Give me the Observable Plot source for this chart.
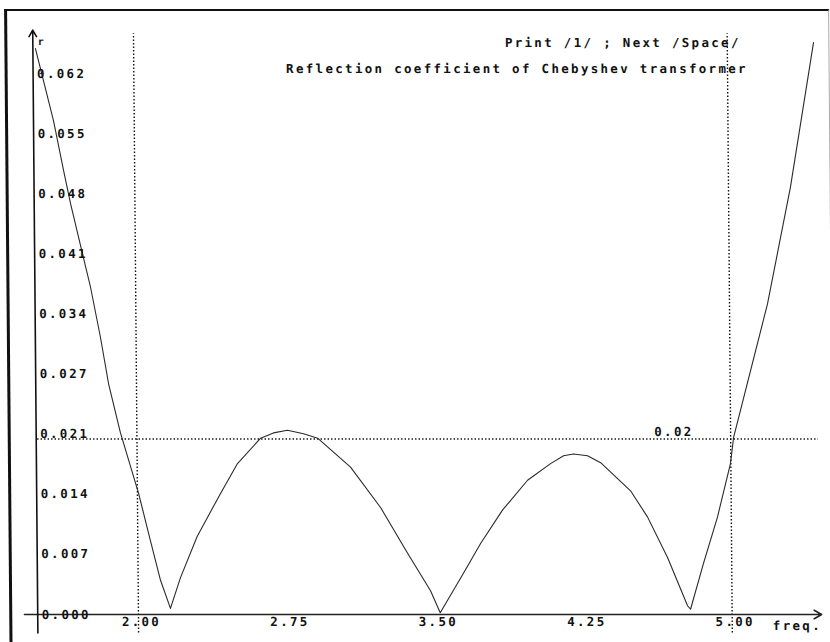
<!DOCTYPE html>
<html><head><meta charset="utf-8">
<script src="https://cdn.jsdelivr.net/npm/d3@7"></script>
<script src="https://cdn.jsdelivr.net/npm/@observablehq/plot@0.6"></script>
<style>
html,body{margin:0;padding:0;background:#fff;overflow:hidden;}
#wrap{position:relative;width:830px;height:642px;transform:skewX(0.49deg);transform-origin:0 0;}
#chart{position:absolute;left:0;top:0;}
#frame{position:absolute;left:4px;top:9px;width:821px;height:660px;border-left:3px solid #111;border-top:2px solid #111;border-right:1px solid #aaa;pointer-events:none;}
</style></head><body>
<div id="wrap"><div id="chart"></div><div id="frame"></div></div>
<script>
// ---- data ----
const freq = [1.504, 1.592, 1.641, 1.675, 1.733, 1.772, 1.820, 1.859, 1.917, 2.006, 2.064, 2.113, 2.162,
  2.214, 2.300, 2.420, 2.507, 2.625, 2.690, 2.761, 2.842, 2.913, 3.078, 3.228, 3.362, 3.477, 3.525,
  3.644, 3.732, 3.844, 3.972, 4.089, 4.155, 4.205, 4.276, 4.342, 4.492, 4.577, 4.676, 4.775, 4.790,
  4.857, 4.930, 4.998, 5.015, 5.192, 5.313, 5.436];
const refl = [0.0645, 0.0563, 0.0506, 0.0468, 0.0411, 0.0373, 0.0316, 0.0263, 0.0207, 0.0138, 0.0084, 0.0039, 0.0007,
  0.0042, 0.0089, 0.0138, 0.0172, 0.0201, 0.0207, 0.0210, 0.0206, 0.0201, 0.0168, 0.0122, 0.0070, 0.0027, 0.0002,
  0.0047, 0.0081, 0.0119, 0.0153, 0.0172, 0.0181, 0.0183, 0.0181, 0.0173, 0.0141, 0.0111, 0.0065, 0.0010, 0.0006,
  0.0058, 0.0111, 0.0172, 0.0202, 0.0354, 0.0487, 0.0652];
const xTicks = [2.00, 2.75, 3.50, 4.25, 5.00];
const xTickLabels = ["2.00", "2.75", "3.50", "4.25", "5.00"];
const yTicks = [0, 0.00685, 0.0137, 0.02055, 0.0274, 0.03425, 0.0411, 0.04795, 0.0548, 0.06165];
const yTickLabels = ["0.000", "0.007", "0.014", "0.021", "0.027", "0.034", "0.041", "0.048", "0.055", "0.062"];
const guideFreqs = [2.00, 5.00];
const threshold = [0.02];
const thresholdLabels = ["0.02"];
const titleLine1 = ["Print /1/ ; Next /Space/"];
const titleLine2 = ["Reflection coefficient of Chebyshev transformer"];
const xLabel = ["freq."];
const yLabel = ["r"];

// ---- scale / axis extents ----
const xDomain = [1.3295, 5.5235];
const yDomain = [-0.00319, 0.06998];
const yAxisAt = 1.491;
const xAxisFrom = 1.424, xAxisTo = 5.452;
const yAxisFrom = -0.0021, yAxisTo = 0.0666;
const guideTop = 0.0662;
const thrFrom = 1.498, thrTo = 5.444;

const data = freq.map((f, i) => ({f, r: refl[i]}));
const ink = "#111";

const chart = Plot.plot({
  width: 830, height: 642, margin: 0,
  x: {domain: xDomain, axis: null},
  y: {domain: yDomain, axis: null},
  style: {background: "white", fontFamily: "'DejaVu Sans Mono', monospace", fontSize: "12.5px", fontWeight: "bold", letterSpacing: "2.3px", color: ink},
  marks: [
    Plot.ruleX(guideFreqs, {x: d => d, y1: yAxisFrom, y2: guideTop, stroke: ink, strokeWidth: 1.4, strokeDasharray: "1.4,2.1"}),
    Plot.ruleY(threshold, {y: d => d, x1: thrFrom, x2: thrTo, stroke: ink, strokeWidth: 1.4, strokeDasharray: "1.4,2.1"}),
    Plot.arrow([0], {x1: xAxisFrom, x2: xAxisTo, y1: 0, y2: 0, stroke: "#222", strokeWidth: 1.6, headLength: 8}),
    Plot.arrow([0], {x1: yAxisAt, x2: yAxisAt, y1: yAxisFrom, y2: yAxisTo, stroke: "#111", strokeWidth: 1.6, headLength: 7}),
    Plot.line(data, {x: "f", y: "r", stroke: "#2a2a2a", strokeWidth: 1.1}),
    Plot.text(yTicks, {x: yAxisAt, y: d => d, text: (d, i) => yTickLabels[i], textAnchor: "start", dx: 4, fill: ink}),
    Plot.text(xTicks, {x: d => d, y: 0, text: (d, i) => xTickLabels[i], dy: 7, dx: 3, fill: ink}),
    Plot.text(thresholdLabels, {x: 4.614, y: threshold[0], text: d => d, textAnchor: "start", dy: -7, fill: ink}),
    Plot.text(xLabel, {x: 5.205, y: 0, text: d => d, textAnchor: "start", dy: 11, fill: ink}),
    Plot.text(yLabel, {x: yAxisAt, y: yAxisTo, text: d => d, textAnchor: "start", dx: 5, dy: 12, fontSize: 10, fill: ink}),
    Plot.text(titleLine1, {frameAnchor: "top-left", text: d => d, textAnchor: "start", lineAnchor: "middle", dx: 504, dy: 42, fill: ink}),
    Plot.text(titleLine2, {frameAnchor: "top-left", text: d => d, textAnchor: "start", lineAnchor: "middle", dx: 285, dy: 68, fill: ink})
  ]
});
document.getElementById("chart").appendChild(chart);
</script>
</body></html>
